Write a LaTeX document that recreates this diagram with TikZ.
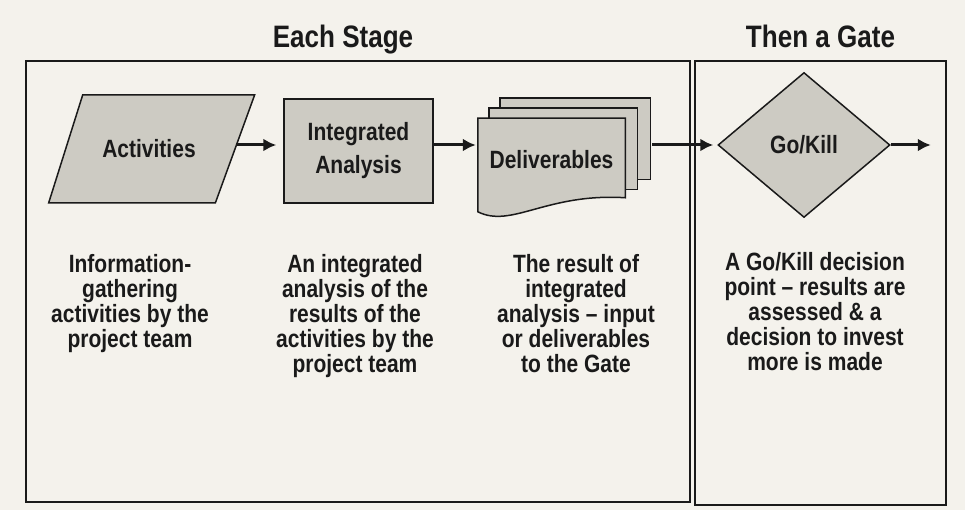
\documentclass[tikz,border=0pt]{standalone}
\usepackage{fontspec}
\setmainfont{Liberation Sans}[FakeStretch=0.84]
\usetikzlibrary{arrows.meta,positioning,shapes.geometric,backgrounds}
\definecolor{paper}{RGB}{244,242,236}
\definecolor{shapegray}{RGB}{205,203,195}
\definecolor{ink}{RGB}{26,26,26}
\tikzset{
    %Define standard arrow tip
    >={Latex[length=13pt,width=13pt]},
    %Define style for the stage and gate frames
    ramme/.style={
           rectangle,
           draw=ink, line width=1.8pt,
           inner sep=0pt},
    %Define style for the flow shapes
    figur/.style={
           draw=ink, line width=1.5pt,
           fill=shapegray,
           inner sep=0pt,
           text=ink,
           font=\fontsize{25}{33}\selectfont\bfseries,
           align=center},
    %Define style for the stacked sheets
    ark/.style={
           draw=ink, line width=1.5pt,
           fill=shapegray},
    %Define style for titles and notes
    overskrift/.style={
           inner sep=0pt,
           text=ink,
           font=\fontsize{31}{36}\selectfont\bfseries},
    forklaring/.style={
           inner sep=0pt,
           text=ink,
           font=\fontsize{25}{25}\selectfont\bfseries,
           align=center},
    % Define arrow style
    pil/.style={
           ->,
           draw=ink,
           line width=3pt,
           shorten >=4pt}
}

\begin{document}
\begin{tikzpicture}[x=1pt,y=-1pt]
    \useasboundingbox (0,0) rectangle (965,510);
    \node (stage) [ramme, minimum width=664pt, minimum height=441pt] at (358,281.5) {};
    \node (gatebox) [ramme, minimum width=251pt, minimum height=444pt] at (820.5,283) {};
    \node (stagetitle) [overskrift] [above=13pt of stage.north, xshift=-15pt, anchor=base]
          {Each Stage};
    \node (gatetitle) [overskrift] [above=13pt of gatebox.north, anchor=base]
          {Then a Gate};
    \node (act) [figur, trapezium, trapezium left angle=72.5, trapezium right angle=110,
          trapezium stretches body, text height=18pt, text depth=0pt, inner ysep=45pt,
          minimum width=206pt] at (149,149)
          {Activities};
    \node (ana) [figur, minimum width=149pt, minimum height=104pt] at (358.5,151)
          {Integrated\\Analysis};
    \node (deliv) [figur, draw=none, fill=none, minimum width=146pt, minimum height=82pt]
          [right=44pt of ana, yshift=-9pt]
          {Deliverables};
    \node (gate) [figur, diamond, aspect=1.18, minimum width=172pt, minimum height=145pt]
          [right=92pt of deliv, yshift=15pt]
          {Go/Kill};
    \coordinate [right=27pt of deliv.east, yshift=15pt] (stackE);
    \coordinate [right=40pt of gate.east] (exit);
    \begin{pgfonlayer}{background}
      \fill[paper] (0,0) rectangle (965,510);
      \filldraw[ark] ([xshift=22pt,yshift=20pt]deliv.north west) rectangle ([xshift=25pt,yshift=22pt]deliv.south east);
      \filldraw[ark] ([xshift=11pt,yshift=10pt]deliv.north west) rectangle ([xshift=12pt,yshift=12pt]deliv.south east);
      \filldraw[ark] (deliv.north west) -- (deliv.north east) -- ([yshift=4pt]deliv.south east)
          .. controls ([xshift=-5pt,yshift=9pt]deliv.south) and ([xshift=-40pt,yshift=-27pt]deliv.south)
          .. ([yshift=-10pt]deliv.south west) -- cycle;
    \end{pgfonlayer}
    \draw [pil, shorten >=7pt] (act.right side |- gate) -- (ana.west |- gate);
    \draw [pil, shorten >=2pt] (ana.east |- gate) -- (deliv.west |- gate);
    \draw [pil] (stackE) -- (gate);
    \draw [pil, shorten >=0pt] (gate) -- (exit);
    \node (actnote) [forklaring] [below=50pt of act, xshift=-19pt]
          {Information-\\gathering\\activities by the\\project team};
    \node (ananote) [forklaring] [below=50pt of ana, xshift=-3.5pt]
          {An integrated\\analysis of the\\results of the\\activities by the\\project team};
    \node (delivnote) [forklaring] [below=52pt of deliv, xshift=24.5pt]
          {The result of\\integrated\\analysis – input\\or deliverables\\to the Gate};
    \node (gatenote) [forklaring] [below=34pt of gate, xshift=11pt]
          {A Go/Kill decision\\point – results are\\assessed \& a\\decision to invest\\more is made};
\end{tikzpicture}
\end{document}
